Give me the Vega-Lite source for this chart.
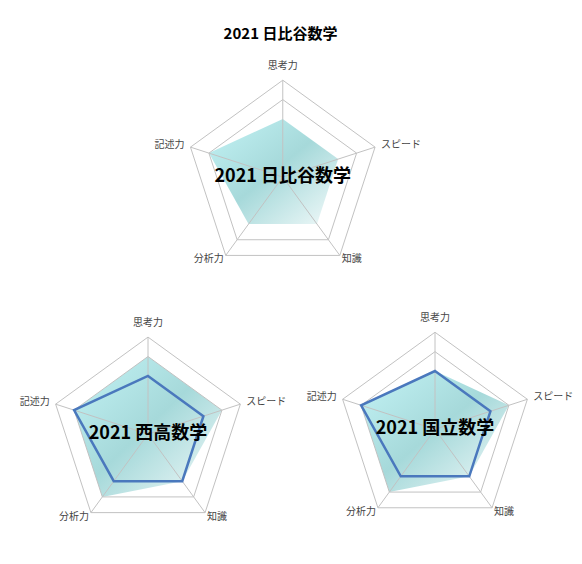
{
  "$schema": "https://vega.github.io/schema/vega-lite/v6.json",
  "padding": {"top": 27, "left": 13, "right": 0, "bottom": 0},
  "bounds": "flush",
  "config": {
    "view": {"stroke": null},
    "font": "Noto Sans CJK JP",
    "text": {"font": "Noto Sans CJK JP"}
  },
  "datasets": {
    "axes": [
      {"axis": "思考力", "idx": 0},
      {"axis": "スピード", "idx": 1},
      {"axis": "知識", "idx": 2},
      {"axis": "分析力", "idx": 3},
      {"axis": "記述力", "idx": 4}
    ],
    "grid": [
      {"level": 4, "idx": 0}, {"level": 4, "idx": 1}, {"level": 4, "idx": 2}, {"level": 4, "idx": 3}, {"level": 4, "idx": 4},
      {"level": 5, "idx": 0}, {"level": 5, "idx": 1}, {"level": 5, "idx": 2}, {"level": 5, "idx": 3}, {"level": 5, "idx": 4}
    ],
    "schools": [
      {"school": "2021 日比谷数学"},
      {"school": "2021 西高数学"},
      {"school": "2021 国立数学"}
    ],
    "scores": [
      {"school": "2021 日比谷数学", "series": "学校", "axis": "思考力", "idx": 0, "value": 3},
      {"school": "2021 日比谷数学", "series": "学校", "axis": "スピード", "idx": 1, "value": 3},
      {"school": "2021 日比谷数学", "series": "学校", "axis": "知識", "idx": 2, "value": 3},
      {"school": "2021 日比谷数学", "series": "学校", "axis": "分析力", "idx": 3, "value": 3},
      {"school": "2021 日比谷数学", "series": "学校", "axis": "記述力", "idx": 4, "value": 4},
      {"school": "2021 西高数学", "series": "学校", "axis": "思考力", "idx": 0, "value": 4},
      {"school": "2021 西高数学", "series": "学校", "axis": "スピード", "idx": 1, "value": 4},
      {"school": "2021 西高数学", "series": "学校", "axis": "知識", "idx": 2, "value": 3},
      {"school": "2021 西高数学", "series": "学校", "axis": "分析力", "idx": 3, "value": 4},
      {"school": "2021 西高数学", "series": "学校", "axis": "記述力", "idx": 4, "value": 4},
      {"school": "2021 西高数学", "series": "比較", "axis": "思考力", "idx": 0, "value": 3},
      {"school": "2021 西高数学", "series": "比較", "axis": "スピード", "idx": 1, "value": 3},
      {"school": "2021 西高数学", "series": "比較", "axis": "知識", "idx": 2, "value": 3},
      {"school": "2021 西高数学", "series": "比較", "axis": "分析力", "idx": 3, "value": 3},
      {"school": "2021 西高数学", "series": "比較", "axis": "記述力", "idx": 4, "value": 4},
      {"school": "2021 国立数学", "series": "学校", "axis": "思考力", "idx": 0, "value": 3},
      {"school": "2021 国立数学", "series": "学校", "axis": "スピード", "idx": 1, "value": 4},
      {"school": "2021 国立数学", "series": "学校", "axis": "知識", "idx": 2, "value": 3},
      {"school": "2021 国立数学", "series": "学校", "axis": "分析力", "idx": 3, "value": 4},
      {"school": "2021 国立数学", "series": "学校", "axis": "記述力", "idx": 4, "value": 4},
      {"school": "2021 国立数学", "series": "比較", "axis": "思考力", "idx": 0, "value": 3},
      {"school": "2021 国立数学", "series": "比較", "axis": "スピード", "idx": 1, "value": 3},
      {"school": "2021 国立数学", "series": "比較", "axis": "知識", "idx": 2, "value": 3},
      {"school": "2021 国立数学", "series": "比較", "axis": "分析力", "idx": 3, "value": 3},
      {"school": "2021 国立数学", "series": "比較", "axis": "記述力", "idx": 4, "value": 4}
    ]
  },
  "spacing": 37,
  "vconcat": [
    {
      "width": 557,
      "height": 215,
      "title": {"text": "2021 日比谷数学", "fontSize": 15, "fontWeight": "bold", "color": "#000", "anchor": "middle", "dx": -11, "offset": 14},
      "encoding": {
        "x": {"field": "x", "type": "quantitative", "scale": {"domain": [-2.78, 2.96], "nice": false, "zero": false}, "axis": null},
        "y": {"field": "y", "type": "quantitative", "scale": {"domain": [-0.97, 1.25], "nice": false, "zero": false}, "axis": null}
      },
      "layer": [
        {
          "data": {"name": "scores"},
          "transform": [
            {"filter": "datum.school == '2021 日比谷数学' && datum.series == '学校'"},
            {"calculate": "datum.value / 5 * sin(datum.idx * 2 * PI / 5)", "as": "x"},
            {"calculate": "datum.value / 5 * cos(datum.idx * 2 * PI / 5)", "as": "y"}
          ],
          "mark": {"type": "line", "interpolate": "linear-closed", "strokeOpacity": 0,
            "fill": {"gradient": "linear", "x1": 0, "y1": 0, "x2": 1, "y2": 1,
              "stops": [{"offset": 0, "color": "#c3f3f5"}, {"offset": 0.5, "color": "#a6d9da"}, {"offset": 1, "color": "#f3fafa"}]}},
          "encoding": {"order": {"field": "idx"}}
        },
        {
          "data": {"name": "grid"},
          "transform": [
            {"calculate": "datum.level / 5 * sin(datum.idx * 2 * PI / 5)", "as": "x"},
            {"calculate": "datum.level / 5 * cos(datum.idx * 2 * PI / 5)", "as": "y"}
          ],
          "mark": {"type": "line", "interpolate": "linear-closed", "color": "#c2c2c2", "strokeWidth": 1},
          "encoding": {"detail": {"field": "level"}, "order": {"field": "idx"}}
        },
        {
          "data": {"name": "axes"},
          "transform": [
            {"calculate": "sin(datum.idx * 2 * PI / 5)", "as": "x"},
            {"calculate": "cos(datum.idx * 2 * PI / 5)", "as": "y"}
          ],
          "mark": {"type": "rule", "color": "#c2c2c2", "strokeWidth": 1},
          "encoding": {"x2": {"datum": 0}, "y2": {"datum": 0}}
        },
        {
          "data": {"name": "axes"},
          "transform": [
            {"filter": "datum.idx == 0"},
            {"calculate": "sin(datum.idx * 2 * PI / 5)", "as": "x"},
            {"calculate": "cos(datum.idx * 2 * PI / 5)", "as": "y"}
          ],
          "mark": {"type": "text", "align": "center", "baseline": "middle", "dy": -14, "fontSize": 10, "color": "#444"},
          "encoding": {"text": {"field": "axis"}}
        },
        {
          "data": {"name": "axes"},
          "transform": [
            {"filter": "datum.idx == 1"},
            {"calculate": "sin(datum.idx * 2 * PI / 5)", "as": "x"},
            {"calculate": "cos(datum.idx * 2 * PI / 5)", "as": "y"}
          ],
          "mark": {"type": "text", "align": "left", "baseline": "middle", "dx": 6, "dy": -2, "fontSize": 10, "color": "#444"},
          "encoding": {"text": {"field": "axis"}}
        },
        {
          "data": {"name": "axes"},
          "transform": [
            {"filter": "datum.idx == 2"},
            {"calculate": "sin(datum.idx * 2 * PI / 5)", "as": "x"},
            {"calculate": "cos(datum.idx * 2 * PI / 5)", "as": "y"}
          ],
          "mark": {"type": "text", "align": "left", "baseline": "middle", "dx": 2, "dy": 4, "fontSize": 10, "color": "#444"},
          "encoding": {"text": {"field": "axis"}}
        },
        {
          "data": {"name": "axes"},
          "transform": [
            {"filter": "datum.idx == 3"},
            {"calculate": "sin(datum.idx * 2 * PI / 5)", "as": "x"},
            {"calculate": "cos(datum.idx * 2 * PI / 5)", "as": "y"}
          ],
          "mark": {"type": "text", "align": "right", "baseline": "middle", "dx": -2, "dy": 4, "fontSize": 10, "color": "#444"},
          "encoding": {"text": {"field": "axis"}}
        },
        {
          "data": {"name": "axes"},
          "transform": [
            {"filter": "datum.idx == 4"},
            {"calculate": "sin(datum.idx * 2 * PI / 5)", "as": "x"},
            {"calculate": "cos(datum.idx * 2 * PI / 5)", "as": "y"}
          ],
          "mark": {"type": "text", "align": "right", "baseline": "middle", "dx": -6, "dy": -2, "fontSize": 10, "color": "#444"},
          "encoding": {"text": {"field": "axis"}}
        },
        {
          "data": {"name": "schools"},
          "transform": [
            {"filter": "datum.school == '2021 日比谷数学'"},
            {"calculate": "0", "as": "x"},
            {"calculate": "0", "as": "y"}
          ],
          "mark": {"type": "text", "align": "center", "baseline": "middle", "fontSize": 18, "fontWeight": "bold", "color": "#000"},
          "encoding": {"text": {"field": "school"}}
        }
      ]
    },
    {
      "spacing": 17,
      "bounds": "flush",
      "hconcat": [
        {
          "width": 270,
          "height": 228,
          "encoding": {
            "x": {"field": "x", "type": "quantitative", "scale": {"domain": [-1.39, 1.39], "nice": false, "zero": false}, "axis": null},
            "y": {"field": "y", "type": "quantitative", "scale": {"domain": [-1.05, 1.3], "nice": false, "zero": false}, "axis": null}
          },
          "layer": [
            {
              "data": {"name": "scores"},
              "transform": [
                {"filter": "datum.school == '2021 西高数学' && datum.series == '学校'"},
                {"calculate": "datum.value / 5 * sin(datum.idx * 2 * PI / 5)", "as": "x"},
                {"calculate": "datum.value / 5 * cos(datum.idx * 2 * PI / 5)", "as": "y"}
              ],
              "mark": {"type": "line", "interpolate": "linear-closed", "strokeOpacity": 0,
                "fill": {"gradient": "linear", "x1": 0, "y1": 0, "x2": 1, "y2": 1,
                  "stops": [{"offset": 0, "color": "#c3f3f5"}, {"offset": 0.5, "color": "#a6d9da"}, {"offset": 1, "color": "#f3fafa"}]}},
              "encoding": {"order": {"field": "idx"}}
            },
            {
              "data": {"name": "grid"},
              "transform": [
                {"calculate": "datum.level / 5 * sin(datum.idx * 2 * PI / 5)", "as": "x"},
                {"calculate": "datum.level / 5 * cos(datum.idx * 2 * PI / 5)", "as": "y"}
              ],
              "mark": {"type": "line", "interpolate": "linear-closed", "color": "#c2c2c2", "strokeWidth": 1},
              "encoding": {"detail": {"field": "level"}, "order": {"field": "idx"}}
            },
            {
              "data": {"name": "axes"},
              "transform": [
                {"calculate": "sin(datum.idx * 2 * PI / 5)", "as": "x"},
                {"calculate": "cos(datum.idx * 2 * PI / 5)", "as": "y"}
              ],
              "mark": {"type": "rule", "color": "#c2c2c2", "strokeWidth": 1},
              "encoding": {"x2": {"datum": 0}, "y2": {"datum": 0}}
            },
            {
              "data": {"name": "scores"},
              "transform": [
                {"filter": "datum.school == '2021 西高数学' && datum.series == '比較'"},
                {"calculate": "datum.value / 5 * sin(datum.idx * 2 * PI / 5)", "as": "x"},
                {"calculate": "datum.value / 5 * cos(datum.idx * 2 * PI / 5)", "as": "y"}
              ],
              "mark": {"type": "line", "interpolate": "linear-closed", "color": "#4a78bd", "strokeWidth": 2.5},
              "encoding": {"order": {"field": "idx"}}
            },
            {
              "data": {"name": "axes"},
              "transform": [
                {"filter": "datum.idx == 0"},
                {"calculate": "sin(datum.idx * 2 * PI / 5)", "as": "x"},
                {"calculate": "cos(datum.idx * 2 * PI / 5)", "as": "y"}
              ],
              "mark": {"type": "text", "align": "center", "baseline": "middle", "dy": -14, "fontSize": 10, "color": "#444"},
              "encoding": {"text": {"field": "axis"}}
            },
            {
              "data": {"name": "axes"},
              "transform": [
                {"filter": "datum.idx == 1"},
                {"calculate": "sin(datum.idx * 2 * PI / 5)", "as": "x"},
                {"calculate": "cos(datum.idx * 2 * PI / 5)", "as": "y"}
              ],
              "mark": {"type": "text", "align": "left", "baseline": "middle", "dx": 6, "dy": -2, "fontSize": 10, "color": "#444"},
              "encoding": {"text": {"field": "axis"}}
            },
            {
              "data": {"name": "axes"},
              "transform": [
                {"filter": "datum.idx == 2"},
                {"calculate": "sin(datum.idx * 2 * PI / 5)", "as": "x"},
                {"calculate": "cos(datum.idx * 2 * PI / 5)", "as": "y"}
              ],
              "mark": {"type": "text", "align": "left", "baseline": "middle", "dx": 2, "dy": 4, "fontSize": 10, "color": "#444"},
              "encoding": {"text": {"field": "axis"}}
            },
            {
              "data": {"name": "axes"},
              "transform": [
                {"filter": "datum.idx == 3"},
                {"calculate": "sin(datum.idx * 2 * PI / 5)", "as": "x"},
                {"calculate": "cos(datum.idx * 2 * PI / 5)", "as": "y"}
              ],
              "mark": {"type": "text", "align": "right", "baseline": "middle", "dx": -2, "dy": 4, "fontSize": 10, "color": "#444"},
              "encoding": {"text": {"field": "axis"}}
            },
            {
              "data": {"name": "axes"},
              "transform": [
                {"filter": "datum.idx == 4"},
                {"calculate": "sin(datum.idx * 2 * PI / 5)", "as": "x"},
                {"calculate": "cos(datum.idx * 2 * PI / 5)", "as": "y"}
              ],
              "mark": {"type": "text", "align": "right", "baseline": "middle", "dx": -6, "dy": -2, "fontSize": 10, "color": "#444"},
              "encoding": {"text": {"field": "axis"}}
            },
            {
              "data": {"name": "schools"},
              "transform": [
                {"filter": "datum.school == '2021 西高数学'"},
                {"calculate": "0", "as": "x"},
                {"calculate": "0", "as": "y"}
              ],
              "mark": {"type": "text", "align": "center", "baseline": "middle", "fontSize": 18, "fontWeight": "bold", "color": "#000"},
              "encoding": {"text": {"field": "school"}}
            }
          ]
        },
        {
          "width": 270,
          "height": 228,
          "encoding": {
            "x": {"field": "x", "type": "quantitative", "scale": {"domain": [-1.39, 1.39], "nice": false, "zero": false}, "axis": null},
            "y": {"field": "y", "type": "quantitative", "scale": {"domain": [-1.1, 1.25], "nice": false, "zero": false}, "axis": null}
          },
          "layer": [
            {
              "data": {"name": "scores"},
              "transform": [
                {"filter": "datum.school == '2021 国立数学' && datum.series == '学校'"},
                {"calculate": "datum.value / 5 * sin(datum.idx * 2 * PI / 5)", "as": "x"},
                {"calculate": "datum.value / 5 * cos(datum.idx * 2 * PI / 5)", "as": "y"}
              ],
              "mark": {"type": "line", "interpolate": "linear-closed", "strokeOpacity": 0,
                "fill": {"gradient": "linear", "x1": 0, "y1": 0, "x2": 1, "y2": 1,
                  "stops": [{"offset": 0, "color": "#c3f3f5"}, {"offset": 0.5, "color": "#a6d9da"}, {"offset": 1, "color": "#f3fafa"}]}},
              "encoding": {"order": {"field": "idx"}}
            },
            {
              "data": {"name": "grid"},
              "transform": [
                {"calculate": "datum.level / 5 * sin(datum.idx * 2 * PI / 5)", "as": "x"},
                {"calculate": "datum.level / 5 * cos(datum.idx * 2 * PI / 5)", "as": "y"}
              ],
              "mark": {"type": "line", "interpolate": "linear-closed", "color": "#c2c2c2", "strokeWidth": 1},
              "encoding": {"detail": {"field": "level"}, "order": {"field": "idx"}}
            },
            {
              "data": {"name": "axes"},
              "transform": [
                {"calculate": "sin(datum.idx * 2 * PI / 5)", "as": "x"},
                {"calculate": "cos(datum.idx * 2 * PI / 5)", "as": "y"}
              ],
              "mark": {"type": "rule", "color": "#c2c2c2", "strokeWidth": 1},
              "encoding": {"x2": {"datum": 0}, "y2": {"datum": 0}}
            },
            {
              "data": {"name": "scores"},
              "transform": [
                {"filter": "datum.school == '2021 国立数学' && datum.series == '比較'"},
                {"calculate": "datum.value / 5 * sin(datum.idx * 2 * PI / 5)", "as": "x"},
                {"calculate": "datum.value / 5 * cos(datum.idx * 2 * PI / 5)", "as": "y"}
              ],
              "mark": {"type": "line", "interpolate": "linear-closed", "color": "#4a78bd", "strokeWidth": 2.5},
              "encoding": {"order": {"field": "idx"}}
            },
            {
              "data": {"name": "axes"},
              "transform": [
                {"filter": "datum.idx == 0"},
                {"calculate": "sin(datum.idx * 2 * PI / 5)", "as": "x"},
                {"calculate": "cos(datum.idx * 2 * PI / 5)", "as": "y"}
              ],
              "mark": {"type": "text", "align": "center", "baseline": "middle", "dy": -14, "fontSize": 10, "color": "#444"},
              "encoding": {"text": {"field": "axis"}}
            },
            {
              "data": {"name": "axes"},
              "transform": [
                {"filter": "datum.idx == 1"},
                {"calculate": "sin(datum.idx * 2 * PI / 5)", "as": "x"},
                {"calculate": "cos(datum.idx * 2 * PI / 5)", "as": "y"}
              ],
              "mark": {"type": "text", "align": "left", "baseline": "middle", "dx": 6, "dy": -2, "fontSize": 10, "color": "#444"},
              "encoding": {"text": {"field": "axis"}}
            },
            {
              "data": {"name": "axes"},
              "transform": [
                {"filter": "datum.idx == 2"},
                {"calculate": "sin(datum.idx * 2 * PI / 5)", "as": "x"},
                {"calculate": "cos(datum.idx * 2 * PI / 5)", "as": "y"}
              ],
              "mark": {"type": "text", "align": "left", "baseline": "middle", "dx": 2, "dy": 4, "fontSize": 10, "color": "#444"},
              "encoding": {"text": {"field": "axis"}}
            },
            {
              "data": {"name": "axes"},
              "transform": [
                {"filter": "datum.idx == 3"},
                {"calculate": "sin(datum.idx * 2 * PI / 5)", "as": "x"},
                {"calculate": "cos(datum.idx * 2 * PI / 5)", "as": "y"}
              ],
              "mark": {"type": "text", "align": "right", "baseline": "middle", "dx": -2, "dy": 4, "fontSize": 10, "color": "#444"},
              "encoding": {"text": {"field": "axis"}}
            },
            {
              "data": {"name": "axes"},
              "transform": [
                {"filter": "datum.idx == 4"},
                {"calculate": "sin(datum.idx * 2 * PI / 5)", "as": "x"},
                {"calculate": "cos(datum.idx * 2 * PI / 5)", "as": "y"}
              ],
              "mark": {"type": "text", "align": "right", "baseline": "middle", "dx": -6, "dy": -2, "fontSize": 10, "color": "#444"},
              "encoding": {"text": {"field": "axis"}}
            },
            {
              "data": {"name": "schools"},
              "transform": [
                {"filter": "datum.school == '2021 国立数学'"},
                {"calculate": "0", "as": "x"},
                {"calculate": "0", "as": "y"}
              ],
              "mark": {"type": "text", "align": "center", "baseline": "middle", "fontSize": 18, "fontWeight": "bold", "color": "#000"},
              "encoding": {"text": {"field": "school"}}
            }
          ]
        }
      ]
    }
  ]
}
